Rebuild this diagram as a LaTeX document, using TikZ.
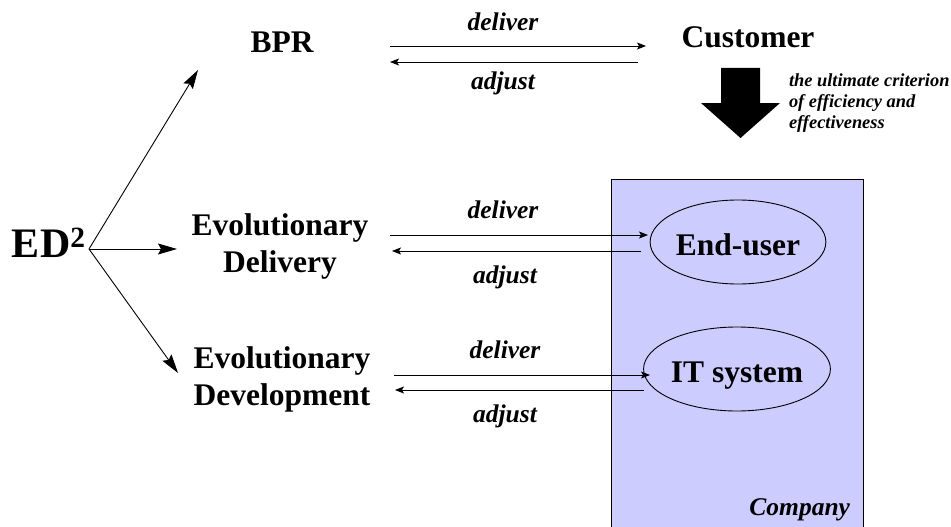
\documentclass[tikz,border=0pt]{standalone}
\usepackage{fontspec}
\setmainfont{Liberation Serif}
\usetikzlibrary{arrows.meta,shapes.geometric}
\definecolor{compfill}{HTML}{CCCCFF}
\tikzset{
  every node/.style={inner sep=0pt, outer sep=0pt},
  mainlbl/.style={font=\fontsize{31.5}{37.5}\selectfont\bfseries, anchor=base},
  flowlbl/.style={font=\fontsize{25.5}{28}\selectfont\bfseries\itshape, anchor=base},
  bigarrow/.style={-{Stealth[length=19pt,width=11pt,inset=3pt]}, line width=0.9pt},
  flowarrow/.style={-{Stealth[length=9pt,width=7pt,inset=2pt]}, line width=0.9pt},
  actor/.style={ellipse, draw, line width=0.9pt, minimum width=156pt, minimum height=84pt,
    font=\fontsize{31.5}{37.5}\selectfont\bfseries, text height=28pt, text depth=2pt},
}
\begin{document}
\begin{tikzpicture}[x=1pt,y=-1pt]
\useasboundingbox (0,0) rectangle (951,527);
\begin{scope}
\clip (0,0) rectangle (951,527);
\draw[fill=compfill, line width=1pt] (611,179) rectangle (863,540);
\end{scope}
\node[font=\fontsize{18.4}{21.5}\selectfont\bfseries\itshape, anchor=base west] (crit) at (789,86)
  {\begin{tabular}[t]{@{}l@{}}the ultimate criterion\\of efficiency and\\effectiveness\end{tabular}};
\node[font=\fontsize{25.5}{28}\selectfont\bfseries\itshape, anchor=base east] (company) at (850,515) {Company};

% nodes
\node[font=\fontsize{42}{48}\selectfont\bfseries, anchor=base west] (ed) at (12,257) {ED\textsuperscript{2}};
\coordinate (edo) at (89,249);
\node[mainlbl] (bpr) at (282,53) {BPR};
\node[mainlbl] (cust) at (748,48) {Customer};
\node[mainlbl] (deliv) at (280,235) {\begin{tabular}[t]{@{}c@{}}Evolutionary\\Delivery\end{tabular}};
\node[mainlbl] (devel) at (282,368) {\begin{tabular}[t]{@{}c@{}}Evolutionary\\Development\end{tabular}};
\node[actor] (enduser) at (738,242) {End-user};
\node[actor] (itsys) at (737,369) {IT system};

% ED2 arrows
\coordinate (t1) at (198,70);
\coordinate (t2) at (177,249);
\coordinate (t3) at (178,373);
\draw[bigarrow] (edo) -- (t1);
\draw[bigarrow] (edo) -- (t2);
\draw[bigarrow] (edo) -- (t3);

% row 1
\coordinate (a1) at (390,46); \coordinate (b1) at (646,46);
\coordinate (c1) at (638,62); \coordinate (d1) at (390,62);
\draw[flowarrow] (a1) -- (b1);
\draw[flowarrow] (c1) -- (d1);
\node[flowlbl] (dl1) at (503,31) {deliver};
\node[flowlbl] (ad1) at (503,90) {adjust};

% row 2
\coordinate (a2) at (390,235); \coordinate (b2) at (648,235);
\coordinate (c2) at (641,251); \coordinate (d2) at (392,251);
\draw[flowarrow] (a2) -- (b2);
\draw[flowarrow] (c2) -- (d2);
\node[flowlbl] (dl2) at (503,218) {deliver};
\node[flowlbl] (ad2) at (505,283) {adjust};

% row 3
\coordinate (a3) at (394,375); \coordinate (b3) at (650,375);
\coordinate (c3) at (644,390); \coordinate (d3) at (395,390);
\draw[flowarrow] (a3) -- (b3);
\draw[flowarrow] (c3) -- (d3);
\node[flowlbl] (dl3) at (505,358) {deliver};
\node[flowlbl] (ad3) at (505,422) {adjust};

% block arrow
\fill (721,68) -- (760,68) -- (760,103) -- (780,103) -- (740.5,138) -- (701,103) -- (721,103) -- cycle;
\end{tikzpicture}
\end{document}
